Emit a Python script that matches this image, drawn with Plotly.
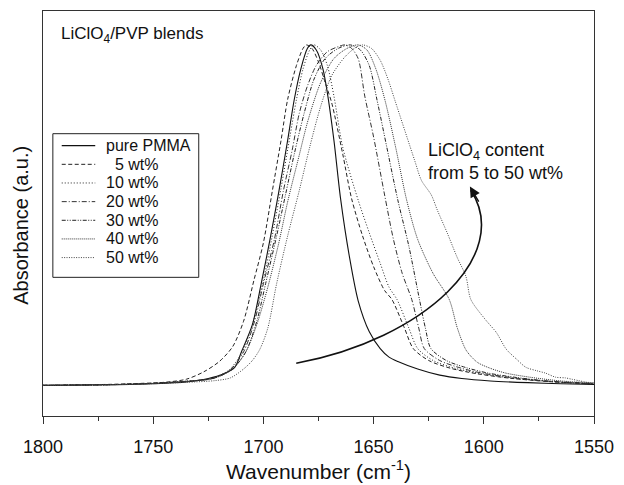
import plotly.graph_objects as go

# ---------------- data ----------------
wn_pure = [1800, 1770, 1750, 1735, 1725, 1718, 1713, 1710, 1705, 1701, 1697, 1693, 1689, 1686, 1683, 1680,
           1678.5, 1676, 1673, 1671, 1668, 1665, 1661, 1657, 1652, 1647, 1643, 1639, 1630, 1620, 1610, 1597,
           1580, 1565, 1550]
ab_pure = [0.002, 0.004, 0.007, 0.012, 0.022, 0.036, 0.055, 0.10, 0.18, 0.30, 0.43, 0.57, 0.72, 0.84, 0.93, 0.99,
           1.00, 0.985, 0.93, 0.86, 0.72, 0.55, 0.38, 0.25, 0.16, 0.11, 0.085, 0.072, 0.05, 0.032, 0.022, 0.015,
           0.010, 0.007, 0.005]

wn_5 = [1800, 1770, 1755, 1745, 1735, 1727, 1720, 1714, 1709, 1704.3, 1700, 1696, 1692, 1689, 1685, 1682,
        1680.5, 1678, 1675, 1672, 1669, 1664, 1660, 1655, 1650, 1645, 1641.7, 1636, 1632, 1625, 1615, 1603,
        1588, 1570, 1550]
ab_5 = [0.002, 0.005, 0.008, 0.011, 0.020, 0.042, 0.072, 0.115, 0.19, 0.31, 0.42, 0.57, 0.72, 0.84, 0.94, 0.99,
        1.00, 0.99, 0.95, 0.89, 0.83, 0.68, 0.55, 0.44, 0.35, 0.28, 0.254, 0.17, 0.11, 0.075, 0.052, 0.036,
        0.023, 0.013, 0.006]

wn_10 = [1800, 1770, 1750, 1735, 1724, 1716, 1710, 1705, 1700, 1696, 1692, 1688, 1685, 1682, 1679, 1677,
         1674, 1671, 1668, 1664, 1657, 1652, 1647, 1643, 1639.4, 1634, 1630, 1623, 1613, 1601, 1587, 1570, 1550]
ab_10 = [0.002, 0.004, 0.008, 0.014, 0.022, 0.045, 0.095, 0.18, 0.31, 0.44, 0.58, 0.73, 0.84, 0.93, 0.985, 1.00,
         0.985, 0.94, 0.85, 0.70, 0.545, 0.45, 0.36, 0.29, 0.254, 0.17, 0.11, 0.075, 0.052, 0.036, 0.023, 0.013,
         0.006]

wn_20 = [1800, 1770, 1750, 1735, 1723, 1715, 1709, 1704, 1700, 1695, 1691, 1687, 1683.7, 1680, 1676, 1671,
         1666, 1663, 1660, 1657, 1654, 1650, 1645, 1641, 1637, 1632.7, 1629.5, 1627, 1620, 1610, 1600, 1586,
         1570, 1550]
ab_20 = [0.002, 0.004, 0.008, 0.014, 0.022, 0.048, 0.10, 0.19, 0.30, 0.43, 0.57, 0.69, 0.80, 0.88, 0.94, 0.98,
         0.995, 1.00, 0.99, 0.96, 0.85, 0.73, 0.56, 0.43, 0.33, 0.254, 0.17, 0.11, 0.075, 0.052, 0.037, 0.024,
         0.014, 0.007]

wn_30 = [1800, 1770, 1750, 1735, 1722, 1714, 1708, 1703, 1699, 1694, 1690, 1686, 1681.5, 1677, 1672, 1666,
         1660.5, 1656, 1652, 1648.4, 1644, 1639, 1634, 1629.2, 1626.5, 1624, 1617, 1608, 1598, 1585, 1570, 1550]
ab_30 = [0.002, 0.004, 0.008, 0.014, 0.024, 0.050, 0.10, 0.19, 0.30, 0.44, 0.56, 0.68, 0.80, 0.90, 0.96, 0.99,
         1.00, 0.985, 0.94, 0.837, 0.70, 0.545, 0.41, 0.254, 0.17, 0.11, 0.075, 0.054, 0.038, 0.025, 0.014, 0.008]

wn_40 = [1800, 1770, 1750, 1735, 1722, 1714, 1708, 1703, 1698, 1693, 1689, 1684, 1679.7, 1674, 1668, 1662,
         1657, 1653, 1649, 1644.8, 1640, 1635, 1630, 1623, 1615.7, 1612, 1608, 1603, 1597, 1590, 1578, 1565, 1550]
ab_40 = [0.002, 0.004, 0.008, 0.014, 0.024, 0.050, 0.10, 0.18, 0.29, 0.42, 0.54, 0.67, 0.78, 0.89, 0.96, 0.99,
         1.00, 0.985, 0.93, 0.837, 0.70, 0.545, 0.43, 0.33, 0.254, 0.17, 0.105, 0.07, 0.052, 0.038, 0.025, 0.015,
         0.009]

wn_50 = [1800, 1770, 1750, 1735, 1722, 1715, 1709, 1705, 1701.6, 1698, 1694, 1689, 1683.7, 1679, 1674, 1669,
         1663, 1658, 1655, 1651, 1647, 1643.5, 1640.3, 1631.4, 1628.3, 1623.8, 1621.1, 1616.6, 1612.2, 1608.1,
         1605.9, 1599.3, 1594.3, 1589.8, 1585, 1580.9, 1576, 1572, 1567.4, 1563, 1560, 1557, 1554, 1550]
ab_50 = [0.002, 0.004, 0.007, 0.011, 0.016, 0.024, 0.05, 0.075, 0.108, 0.17, 0.30, 0.44, 0.574, 0.70, 0.82,
         0.91, 0.965, 0.993, 1.00, 0.99, 0.955, 0.90, 0.837, 0.662, 0.603, 0.560, 0.516, 0.449, 0.379, 0.321,
         0.254, 0.195, 0.157, 0.108, 0.078, 0.055, 0.045, 0.038, 0.026, 0.024, 0.020, 0.016, 0.012, 0.009]

labels = ["pure PMMA", "\u00a0\u00a05 wt%", "10 wt%", "20 wt%", "30 wt%", "40 wt%", "50 wt%"]
xs = [wn_pure, wn_5, wn_10, wn_20, wn_30, wn_40, wn_50]
ys = [ab_pure, ab_5, ab_10, ab_20, ab_30, ab_40, ab_50]
x_ticks = [1800, 1750, 1700, 1650, 1600, 1550]

# ---------------- styles ----------------
dashes = ["solid", "4px,2.5px", "1px,2px", "5px,2px,1px,2px", "4px,1.5px,1px,1.5px,1px,1.5px", "1px,1px", "1px,1.4px"]
colors = ["#111111", "#222222", "#222222", "#333333", "#222222", "#333333", "#444444"]
widths = [1.1, 1.0, 1.0, 1.0, 1.0, 1.0, 1.0]

FONT = "Arial, 'Liberation Sans', Helvetica, sans-serif"
INK = "#111111"

W, H = 624, 485
ml, mr, mt, mb = 43, 22, 10, 69
plot_w = W - ml - mr
plot_h = H - mt - mb


def px_x(p):
    return (p - ml) / plot_w


def px_y(p):
    return (H - mb - p) / plot_h


base_px = 386 - mt          # baseline position from top of plot area
peak_px = 44 - mt
unit = base_px - peak_px    # pixels per absorbance unit
y_min = -(plot_h - base_px) / unit
y_max = y_min + plot_h / unit

fig = go.Figure()
for lab, x, y, d, c, w in zip(labels, xs, ys, dashes, colors, widths):
    fig.add_trace(go.Scatter(x=x, y=y, name=lab, mode="lines", showlegend=False,
                             line=dict(color=c, width=w, dash=d, shape="spline", smoothing=0.8)))

fig.update_layout(
    width=W, height=H,
    margin=dict(l=ml, r=mr, t=mt, b=mb, pad=0),
    paper_bgcolor="white", plot_bgcolor="white",
    font=dict(family=FONT, color=INK, size=16),
    showlegend=False,
    xaxis=dict(range=[1800, 1550], tickvals=x_ticks, ticks="outside", ticklen=7, tickwidth=1.2,
               tickcolor="#333333", showline=True, linecolor="#333333", linewidth=1.3, mirror=True,
               showgrid=False, zeroline=False, tickfont=dict(size=18, family=FONT),
               ticklabelstandoff=7,
               minor=dict(dtick=25, ticks="outside", ticklen=4, tickwidth=1.2, tickcolor="#333333"),
               title=dict(text="Wavenumber (cm<sup>-1</sup>)", font=dict(size=21, family=FONT), standoff=3)),
    yaxis=dict(range=[y_min, y_max], showticklabels=False, ticks="", showline=True, linecolor="#333333",
               linewidth=1.3, mirror=True, showgrid=False, zeroline=False),
)

# y-axis title
fig.add_annotation(text="Absorbance (a.u.)", xref="paper", yref="paper", x=px_x(21), y=px_y(225),
                   xanchor="center", yanchor="middle", textangle=-90, showarrow=False,
                   font=dict(size=20, family=FONT, color=INK))

# in-plot labels
fig.add_annotation(text="LiClO<sub>4</sub>/PVP blends", xref="paper", yref="paper",
                   x=px_x(59), y=px_y(34), xanchor="left", yanchor="middle",
                   showarrow=False, font=dict(size=17, family=FONT, color=INK))
fig.add_annotation(text="LiClO<sub>4</sub> content<br>from 5 to 50 wt%", xref="paper", yref="paper",
                   x=px_x(432), y=px_y(137), xanchor="left", yanchor="top",
                   align="left", showarrow=False, font=dict(size=18, family=FONT, color=INK))

# legend box (drawn with the traces' own styles)
box_l, box_r, box_t, box_b = 53, 201, 133, 277
fig.add_shape(type="rect", xref="paper", yref="paper", x0=px_x(box_l), x1=px_x(box_r),
              y0=px_y(box_b), y1=px_y(box_t), line=dict(color="#222222", width=1), fillcolor="white",
              layer="above")
row0, row_gap = 145, 18.7
for i, (lab, d, c, w) in enumerate(zip(labels, dashes, colors, widths)):
    yy = px_y(row0 + i * row_gap)
    fig.add_shape(type="line", xref="paper", yref="paper", x0=px_x(62), x1=px_x(96), y0=yy, y1=yy,
                  line=dict(color=c, width=w, dash=d), layer="above")
    fig.add_annotation(text=lab, xref="paper", yref="paper", x=px_x(105), y=yy, xanchor="left",
                       yanchor="middle", showarrow=False, font=dict(size=16, family=FONT, color=INK))

# curved arrow (cubic Bezier in data coordinates) + arrow head
p0 = (1685.1, 0.067)
p1 = (1626.9, 0.137)
p2 = (1586.7, 0.385)
p3 = (1605.9, 0.574)
fig.add_shape(type="path", xref="x", yref="y",
              path=f"M {p0[0]},{p0[1]} C {p1[0]},{p1[1]} {p2[0]},{p2[1]} {p3[0]},{p3[1]}",
              line=dict(color=INK, width=1.6))
fig.add_annotation(x=1606.3, y=0.585, ax=1601.9, ay=0.536, xref="x", yref="y", axref="x", ayref="y",
                   text="", showarrow=True, arrowhead=2, arrowsize=1.5, arrowwidth=1.4, arrowcolor=INK)

fig.write_html("out.html")
